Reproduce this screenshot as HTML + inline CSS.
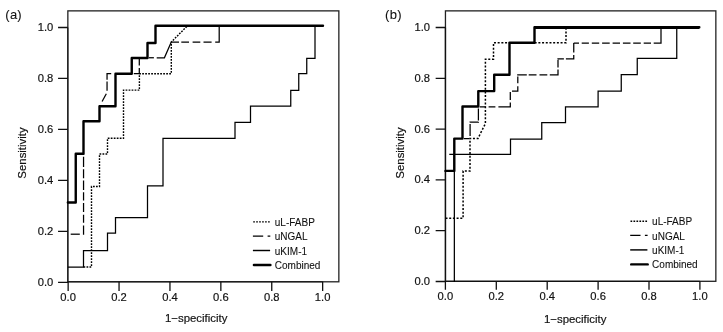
<!DOCTYPE html>
<html><head><meta charset="utf-8"><title>ROC curves</title>
<style>
html,body{margin:0;padding:0;background:#fff;}
svg{display:block;}
text{font-family:"Liberation Sans",Arial,Helvetica,sans-serif;font-size:11.2px;fill:#111;stroke:#111;stroke-width:0.18px;}
.ax{font-size:11.4px;}
.lg{font-size:10px;stroke-width:0.08px;}
.pl{font-size:13px;letter-spacing:0.25px;stroke-width:0.1px;}
.thin{fill:none;stroke:#000;stroke-width:1.25;stroke-linejoin:miter;}
.fabp{fill:none;stroke:#000;stroke-width:1.4;stroke-dasharray:1.75 1.25;}
.fabpb{fill:none;stroke:#000;stroke-width:1.5;stroke-dasharray:2.0 1.7;}
.comb{fill:none;stroke:#000;stroke-width:2.4;stroke-linejoin:round;stroke-linecap:round;}
.combr{fill:none;stroke:#000;stroke-width:2.4;stroke-linecap:round;}
</style></head>
<body>
<svg width="723" height="332" viewBox="0 0 723 332">
<rect width="723" height="332" fill="#fff"/>
<text x="5.3" y="18.8" class="pl">(a)</text>
<text x="385.1" y="18.8" class="pl">(b)</text>
<rect x="67.85" y="10.87" width="271" height="270.93" fill="none" stroke="#222" stroke-width="1.3"/>
<path d="M58.05,27.5H67.85 M68.15,281.8V291 M58.05,78.46H67.85 M119.05,281.8V291 M58.05,129.42H67.85 M169.95,281.8V291 M58.05,180.38H67.85 M220.85,281.8V291 M58.05,231.34H67.85 M271.75,281.8V291 M58.05,282.3H67.85 M322.65,281.8V291" stroke="#111" stroke-width="1.3" fill="none"/>
<path d="M68.15,281.8H322.65M67.85,27.5V282.3" stroke="#111" stroke-width="1.0" fill="none"/>
<text x="53.25" y="30.9" text-anchor="end">1.0</text>
<text x="53.25" y="81.86" text-anchor="end">0.8</text>
<text x="53.25" y="132.82" text-anchor="end">0.6</text>
<text x="53.25" y="183.78" text-anchor="end">0.4</text>
<text x="53.25" y="234.74" text-anchor="end">0.2</text>
<text x="53.25" y="285.7" text-anchor="end">0.0</text>
<text x="68.15" y="300.8" text-anchor="middle">0.0</text>
<text x="119.05" y="300.8" text-anchor="middle">0.2</text>
<text x="169.95" y="300.8" text-anchor="middle">0.4</text>
<text x="220.85" y="300.8" text-anchor="middle">0.6</text>
<text x="271.75" y="300.8" text-anchor="middle">0.8</text>
<text x="322.65" y="300.8" text-anchor="middle">1.0</text>
<text x="196.15" y="321.5" text-anchor="middle" class="ax">1−specificity</text>
<text transform="translate(26.15,153) rotate(-90)" text-anchor="middle" class="ax">Sensitivity</text>
<rect x="445.45" y="10.87" width="270.4" height="270.43" fill="none" stroke="#222" stroke-width="1.3"/>
<path d="M435.65,27.5H445.45 M445.4,281.3V289.8 M435.65,78.3H445.45 M496.3,281.3V289.8 M435.65,129.1H445.45 M547.2,281.3V289.8 M435.65,179.9H445.45 M598.1,281.3V289.8 M435.65,230.7H445.45 M649,281.3V289.8 M435.65,281.5H445.45 M699.9,281.3V289.8" stroke="#111" stroke-width="1.3" fill="none"/>
<path d="M445.4,281.3H699.9M445.45,27.5V281.5" stroke="#111" stroke-width="1.3" fill="none"/>
<text x="430.05" y="30.9" text-anchor="end">1.0</text>
<text x="430.05" y="81.7" text-anchor="end">0.8</text>
<text x="430.05" y="132.5" text-anchor="end">0.6</text>
<text x="430.05" y="183.3" text-anchor="end">0.4</text>
<text x="430.05" y="234.1" text-anchor="end">0.2</text>
<text x="430.05" y="284.9" text-anchor="end">0.0</text>
<text x="445.4" y="300.2" text-anchor="middle">0.0</text>
<text x="496.3" y="300.2" text-anchor="middle">0.2</text>
<text x="547.2" y="300.2" text-anchor="middle">0.4</text>
<text x="598.1" y="300.2" text-anchor="middle">0.6</text>
<text x="649" y="300.2" text-anchor="middle">0.8</text>
<text x="699.9" y="300.2" text-anchor="middle">1.0</text>
<text x="575.2" y="322.5" text-anchor="middle" class="ax">1−specificity</text>
<text transform="translate(403.75,153) rotate(-90)" text-anchor="middle" class="ax">Sensitivity</text>
<path d="M83.5,267 L91.5,267 L91.5,186.5 L99.5,186.5 L99.5,154 L107.5,154 L107.5,138.25 L123.5,138.25 L123.5,90.1 L139.4,90.1 L139.4,73.7 L171.3,73.7 L171.3,42 L187.5,25.8" class="fabp"/>
<path d="M70.7,234.2 L79.8,234.2" class="thin"/>
<path d="M83.55,234.7 L83.55,153.75" class="thin" stroke-dasharray="9.2 2.7 8.1 2.7 8.9 2.7 8.1 2.3 9.5 2.3 8.9 2.3 10.2 2" stroke-dashoffset="0"/>
<path d="M102.1,101.5 L106.3,93.8" class="thin"/>
<path d="M107.05,90.7 L107.05,81.6" class="thin"/>
<path d="M107.05,79.8 L107.05,73.6 L111.2,73.6" class="thin"/>
<path d="M133.8,73.6 L139.3,73.6 L139.3,68.1" class="thin"/>
<path d="M139.3,65.4 L139.3,59" class="thin"/>
<path d="M148.8,57.75 L153.9,57.75" class="thin"/>
<path d="M156.7,57.75 L164.4,57.75 L171.3,42" class="thin"/>
<path d="M171.3,42.05 L219.2,42.05 L219.2,26" class="thin" stroke-dasharray="7.7 2.3 7.7 3.6 7.7 3.2 8.1 3.6 5 0 16 0" stroke-dashoffset="0"/>
<path d="M67.85,267 L83.5,267 L83.5,250.5 L107.5,250.5 L107.5,233 L115.5,233 L115.5,217.5 L147.5,217.5 L147.5,185.75 L163,185.75 L163,138.25 L235,138.25 L235,122.25 L250.5,122.25 L250.5,106 L290.75,106 L290.75,90.25 L298.75,90.25 L298.75,73.5 L306.75,73.5 L306.75,58.25 L315,58.25 L315,25.8" class="thin"/>
<path d="M67.85,202.5 L75.75,202.5 L75.75,153.75 L83.5,153.75 L83.5,121.25 L99.5,121.25 L99.5,106.25 L115.5,106.25 L115.5,73.75 L131.75,73.75 L131.75,58 L147.5,58 L147.5,43 L155.5,43 L155.5,25.8 L323,25.8" class="comb"/>
<path d="M445.5,218.25 L463.1,218.25 L463.1,171 L470,171 L470,138.4 L478,138.4 L485.4,123.5 L485.4,59.25 L493.5,59.25 L493.5,42.75 L566,42.75 L566,27.05" class="fabpb"/>
<path d="M462.5,138.6 L470.1,138.6 L470.1,122.2 L478.4,122.2 L478.4,106.75" class="thin" stroke-dasharray="0 1.5 5.4 3.2 12 1.5 8.8 1.6 12.1 51.7" stroke-dashoffset="0"/>
<path d="M478.4,106.75 L510.3,106.75 L510.3,91 L517.8,91 L517.8,74.9 L558,74.9 L558,58.8 L573.75,58.8 L573.75,43" class="thin" stroke-dasharray="0 1.4 5.9 2.9 6.8 3 16.25 2.5 7.8 2.8 10.6 2.9 6.9 1 9.5 1.9 7.8 3 7.8 2.5 13.5 2 7.8 0.5 6.4 2 11.55 2.5 9.7 50" stroke-dashoffset="0"/>
<path d="M573.75,43 L661,43 L661,27.5" class="thin" stroke-dasharray="5.25 2.7 7.2 2.9 7.4 2.9 7.6 2.9 7.4 2.9 7.6 2.7 7.6 2.9 7.3 2.7 22.85 50" stroke-dashoffset="0"/>
<path d="M454.35,282 L454.35,154.3 M449.3,154.3 L510.5,154.3 L510.5,139.2 L541.75,139.2 L541.75,122.5 L565.5,122.5 L565.5,106.75 L598.1,106.75 L598.1,91.1 L621.25,91.1 L621.25,74.6 L637.25,74.6 L637.25,58.4 L676.75,58.4 L676.75,27.05" class="thin"/>
<path d="M535,28.3H699.3" class="thin"/>
<path d="M445.5,170.9 L454.3,170.9 L454.3,138.6 L462.5,138.6 L462.5,106.5 L478.3,106.5 L478.3,91.1 L494.2,91.1 L494.2,74.8 L509.5,74.8 L509.5,42.7 L534.5,42.7 L534.5,27.2 L699.3,27.2" class="comb"/>
<path d="M253.2,221.9H270.5" class="fabp" style="stroke-dasharray:1.7 1.27"/>
<path d="M252.9,236.05H263.2M267.6,236.05H270.3" class="thin"/>
<path d="M252.9,250.5H270.1" class="thin" style="stroke-width:1.45"/>
<path d="M253.9,265H270.4" class="combr"/>
<text x="274.8" y="225.95" class="lg">uL-FABP</text>
<text x="274.8" y="240.1" class="lg">uNGAL</text>
<text x="274.8" y="254.55" class="lg">uKIM-1</text>
<text x="274.8" y="269.05" class="lg">Combined</text>
<path d="M630.5,221.3H647.8" class="fabp" style="stroke-dasharray:1.7 1.27"/>
<path d="M630.2,235.45H640.5M644.9,235.45H647.6" class="thin"/>
<path d="M630.2,249.9H647.4" class="thin" style="stroke-width:1.45"/>
<path d="M631.2,264.4H647.7" class="combr"/>
<text x="652.1" y="225.35" class="lg">uL-FABP</text>
<text x="652.1" y="239.5" class="lg">uNGAL</text>
<text x="652.1" y="253.95" class="lg">uKIM-1</text>
<text x="652.1" y="268.45" class="lg">Combined</text>
</svg>
</body></html>
